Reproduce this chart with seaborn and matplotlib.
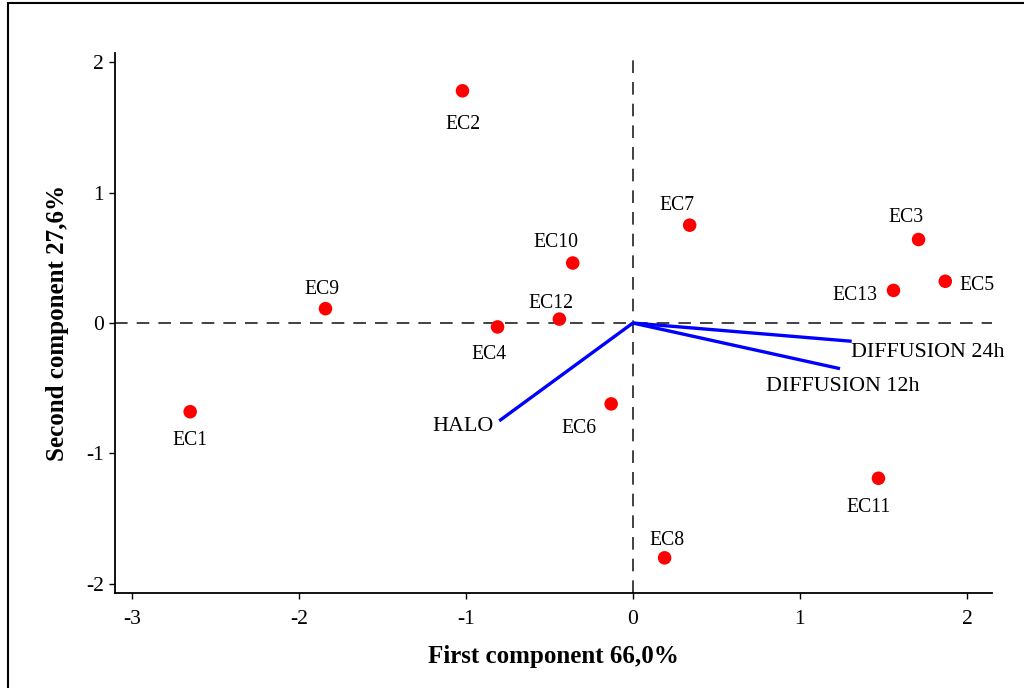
import numpy as np
import pandas as pd
import matplotlib
matplotlib.use("Agg")
import matplotlib.pyplot as plt
from matplotlib.patches import Rectangle
import seaborn as sns

# PCA scores of the samples
samples = ["EC1", "EC2", "EC3", "EC4", "EC5", "EC6", "EC7",
           "EC8", "EC9", "EC10", "EC11", "EC12", "EC13"]
pc1 = [-2.65, -1.02, 1.71, -0.81, 1.87, -0.13, 0.34,
       0.19, -1.84, -0.36, 1.47, -0.44, 1.56]
pc2 = [-0.68, 1.78, 0.64, -0.03, 0.32, -0.62, 0.75,
       -1.80, 0.11, 0.46, -1.19, 0.03, 0.25]

# loadings of the variables
variables = ["HALO", "DIFFUSION 24h", "DIFFUSION 12h"]
load1 = [-0.80, 1.31, 1.24]
load2 = [-0.75, -0.14, -0.35]

x_ticks = [-3, -2, -1, 0, 1, 2]
y_ticks = [-2, -1, 0, 1, 2]

# label offsets in pixels (label placement only)
lab_off = {"EC1": (0, -29), "EC2": (0, -34), "EC3": (-13, 22), "EC4": (-9, -28),
           "EC5": (32, -4), "EC6": (-32, -25), "EC7": (-13, 20), "EC8": (2, 17),
           "EC9": (-4, 19), "EC10": (-17, 21), "EC11": (-10, -29), "EC12": (-8, 16),
           "EC13": (-39, -5)}
var_off = {"HALO": (-6, -6, "right"), "DIFFUSION 24h": (-1, -11, "left"),
           "DIFFUSION 12h": (3, -18, "center")}

sns.set_style("ticks")
plt.rcParams["font.family"] = ["Liberation Serif", "DejaVu Serif"]
plt.rcParams["text.color"] = "black"
plt.rcParams["axes.labelcolor"] = "black"
plt.rcParams["xtick.color"] = "black"
plt.rcParams["ytick.color"] = "black"

df = pd.DataFrame({"sample": samples, "pc1": pc1, "pc2": pc2})

fig = plt.figure(figsize=(10.24, 6.88), dpi=100)
ax = fig.add_axes([0.1123, 0.138, 0.8565, 0.785])

# reference lines through the origin
ax.axhline(0, color="#333333", lw=1.3, ls=(0, (7, 5)), zorder=1)
ax.axvline(0, color="#333333", lw=1.3, ls=(0, (7, 5)), zorder=1)

# variable vectors
for v, a, b in zip(variables, load1, load2):
    ax.plot([0, a], [0, b], color="#0000ff", lw=2.4, zorder=2, solid_capstyle="butt")
    dx, dy, ha = var_off[v]
    ax.annotate(v, (a, b), xytext=(dx, dy), textcoords="offset pixels",
                ha=ha, va="center", fontsize=15.8)

sns.scatterplot(data=df, x="pc1", y="pc2", color="#ff0000", s=95,
                edgecolor="none", ax=ax, zorder=3)

for name, a, b in zip(samples, pc1, pc2):
    dx, dy = lab_off[name]
    ax.annotate(name, (a, b), xytext=(dx, dy), textcoords="offset pixels",
                ha="center", va="center", fontsize=14.2)

ax.set_xlim(-3.10, 2.15)
ax.set_ylim(-2.07, 2.07)
ax.set_xticks(x_ticks)
ax.set_yticks(y_ticks)
ax.set_xticklabels([str(t) for t in x_ticks])
ax.set_yticklabels([str(t) for t in y_ticks])
ax.tick_params(axis="both", length=4, width=1, labelsize=15.5)
ax.tick_params(axis="x", pad=8.5)
ax.tick_params(axis="y", pad=4)
sns.despine(ax=ax)
for s in ["left", "bottom"]:
    ax.spines[s].set_linewidth(1.3)
    ax.spines[s].set_color("black")

ax.set_xlabel("First component 66,0%", fontsize=18, fontweight="bold", labelpad=11)
ax.set_ylabel("Second component 27,6%", fontsize=18, fontweight="bold", labelpad=12)

# frame around the whole picture
fig.patches.append(Rectangle((0.0075, -0.05), 1.2, 1.0456, transform=fig.transFigure,
                             fill=False, edgecolor="black", lw=1.5))

fig.savefig("out.png", dpi=100)
